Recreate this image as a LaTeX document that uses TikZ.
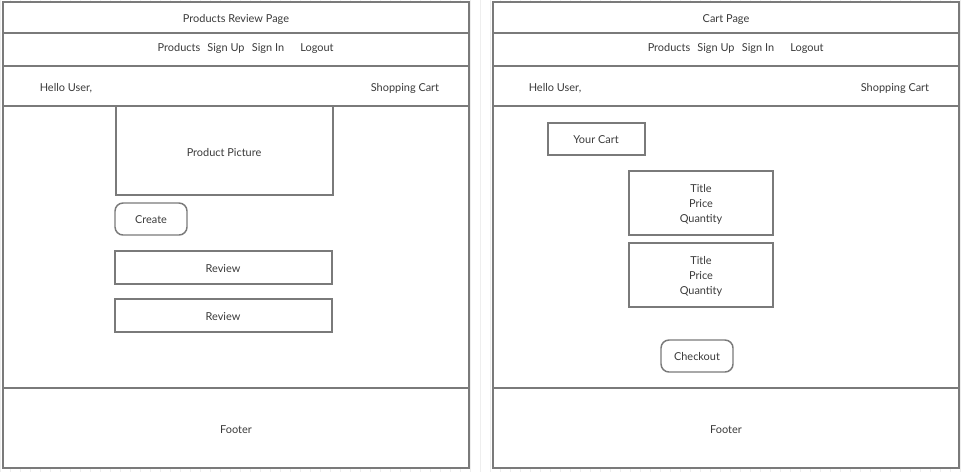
\documentclass[tikz,border=0pt]{standalone}
\usepackage{fontspec}
\setmainfont{Lato}
\usetikzlibrary{positioning}
\definecolor{linegray}{HTML}{7A7A7A}
\definecolor{textgray}{HTML}{3A3A3A}
\definecolor{gridgray}{HTML}{EEEEEE}

\begin{document}
\begin{tikzpicture}[x=0.75pt,y=-0.75pt,
  frame/.style={draw=linegray,line width=1.1pt,fill=white},
  rbox/.style={draw=linegray,line width=1.1pt,fill=white,rounded corners=6pt},
  lbl/.style={text=textgray,font=\fontsize{8.2}{10.2}\selectfont,inner sep=0pt,
    text height=6pt,text depth=1.6pt,yshift=-0.9pt},
  multi/.style={text=textgray,font=\fontsize{8.2}{10.2}\selectfont,inner sep=0pt,
    align=center,yshift=-0.75pt}]
\useasboundingbox (0,0) rectangle (962,472);
\fill[white] (0,0) rectangle (962,472);
\draw[gridgray,line width=0.4pt,step=10] (0,0) grid (962,472);

% products review page
\draw[frame] (3,2) rectangle (469,468);
\draw[frame] (3,2) rectangle (469,33);
\draw[frame] (3,33) rectangle (469,66);
\draw[frame] (3,66) rectangle (469,106);
\draw[frame] (3,388) rectangle (469,468);
\node[lbl] (ptitle) at (236,18) {Products Review Page};
\node[lbl] (pnavprod) at (179,47) {Products};
\node[lbl] (pnavup) at (226,47) {Sign Up};
\node[lbl] (pnavin) at (268,47) {Sign In};
\node[lbl] (pnavout) at (317,47) {Logout};
\node[lbl] (phello) at (66,87) {Hello User,};
\node[lbl] (pcart) at (405,87) {Shopping Cart};
\draw[frame] (116,106) rectangle (333,195);
\node[lbl] (picture) at (224,152) {Product Picture};
\draw[rbox] (115,203) rectangle (187,235);
\node[lbl] (create) at (151,219) {Create};
\draw[frame] (115,251) rectangle (332,284);
\node[lbl] (review1) at (223,268) {Review};
\draw[frame] (115,299) rectangle (332,332);
\node[lbl] (review2) at (223,316) {Review};
\node[lbl] (pfooter) at (236,429) {Footer};

% cart page
\draw[frame] (493,2) rectangle (959,468);
\draw[frame] (493,2) rectangle (959,33);
\draw[frame] (493,33) rectangle (959,66);
\draw[frame] (493,66) rectangle (959,106);
\draw[frame] (493,388) rectangle (959,468);
\node[lbl] (ctitle) at (726,18) {Cart Page};
\node[lbl] (cnavprod) at (669,47) {Products};
\node[lbl] (cnavup) at (716,47) {Sign Up};
\node[lbl] (cnavin) at (758,47) {Sign In};
\node[lbl] (cnavout) at (807,47) {Logout};
\node[lbl] (chello) at (555,87) {Hello User,};
\node[lbl] (ccart) at (895,87) {Shopping Cart};
\draw[frame] (548,123) rectangle (645,155);
\node[lbl] (yourcart) at (596,139) {Your Cart};
\draw[frame] (629,171) rectangle (773,235);
\node[multi] (item1) at (701,203) {Title\\[1pt]Price\\[1pt]Quantity};
\draw[frame] (629,243) rectangle (773,307);
\node[multi] (item2) at (701,275.5) {Title\\[1pt]Price\\[1pt]Quantity};
\draw[rbox] (661,340) rectangle (733,372);
\node[lbl] (checkout) at (697,356) {Checkout};
\node[lbl] (cfooter) at (726,429) {Footer};
\end{tikzpicture}
\end{document}
